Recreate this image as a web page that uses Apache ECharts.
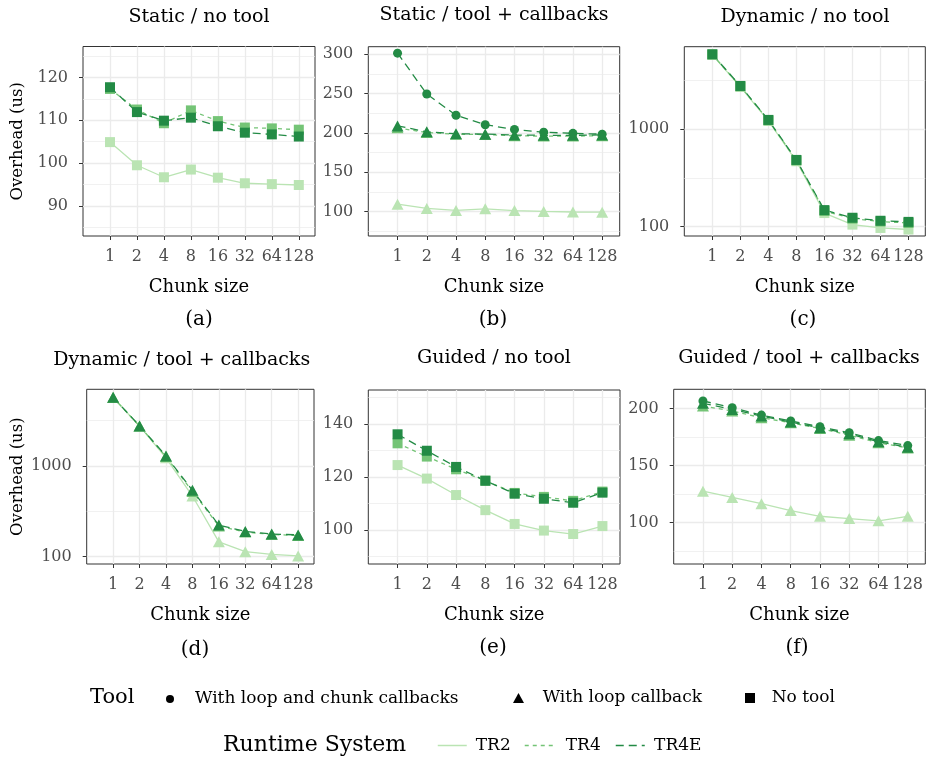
<!DOCTYPE html>
<html>
<head>
<meta charset="utf-8">
<script src="https://cdn.jsdelivr.net/npm/echarts@6/dist/echarts.min.js"></script>
<style>
html,body{margin:0;padding:0;background:#fff;}
#chart{width:928px;height:764px;}
</style>
</head>
<body>
<div id="chart"></div>
<script>
// ---------------- data ----------------
const chunkSizes = ['1', '2', '4', '8', '16', '32', '64', '128'];

// (a) Static / no tool  (No tool)
const staticNoToolTR2  = [104.9, 99.5, 96.7, 98.5, 96.6, 95.3, 95.1, 94.9];
const staticNoToolTR4  = [117.3, 112.5, 109.3, 112.3, 109.8, 108.3, 108.1, 107.8];
const staticNoToolTR4E = [117.7, 111.9, 109.9, 110.6, 108.6, 107.1, 106.7, 106.2];

// (b) Static / tool + callbacks
const staticToolTR2Loop   = [109.5, 104.0, 101.5, 103.5, 101.3, 100.2, 99.5, 99.3];
const staticToolTR4Loop   = [206.5, 200.5, 198.5, 198.0, 196.5, 196.0, 196.0, 196.5];
const staticToolTR4ELoop  = [209.0, 201.5, 199.0, 198.5, 197.5, 197.0, 197.0, 197.5];
const staticToolTR4EChunk = [301.5, 249.5, 222.5, 210.5, 204.5, 201.0, 199.5, 198.5];

// (c) Dynamic / no tool  (No tool)
const dynNoToolTR2  = [5820, 2730, 1220, 470, 138, 105, 97, 93.5];
const dynNoToolTR4  = [5880, 2770, 1240, 480, 145, 121, 113, 109];
const dynNoToolTR4E = [5900, 2790, 1250, 485, 148, 123.5, 115, 112];

// (d) Dynamic / tool + callbacks  (With loop callback)
const dynToolTR2Loop  = [5700, 2750, 1230, 467, 146, 113.5, 106, 102];
const dynToolTR4Loop  = [5700, 2760, 1270, 525, 218, 187, 176, 171];
const dynToolTR4ELoop = [5720, 2770, 1290, 540, 223, 190, 178, 174];

// (e) Guided / no tool  (No tool)
const guidedNoToolTR2  = [124.5, 119.4, 113.2, 107.5, 102.3, 99.8, 98.5, 101.5];
const guidedNoToolTR4  = [132.7, 127.7, 122.9, 118.6, 114.0, 112.5, 111.0, 114.5];
const guidedNoToolTR4E = [136.1, 129.9, 123.8, 118.6, 113.7, 111.8, 110.3, 114.1];

// (f) Guided / tool + callbacks
const guidedToolTR2Loop   = [127.5, 122.0, 116.5, 110.5, 105.5, 103.5, 101.5, 105.5];
const guidedToolTR4Loop   = [202.0, 197.7, 191.8, 187.4, 182.4, 176.5, 169.8, 165.4];
const guidedToolTR4ELoop  = [204.4, 199.1, 193.3, 188.0, 183.0, 177.7, 170.7, 166.0];
const guidedToolTR4EChunk = [206.5, 200.6, 194.1, 188.9, 183.9, 178.6, 171.8, 167.4];

// tick labels
const yTicksA = [90, 100, 110, 120];
const yTicksB = [100, 150, 200, 250, 300];
const yTicksLog = [100, 1000];
const yTicksE = [100, 120, 140];
const yTicksF = [100, 150, 200];

const toolNames = ['With loop and chunk callbacks', 'With loop callback', 'No tool'];
const runtimeNames = ['TR2', 'TR4', 'TR4E'];

// ---------------- styles ----------------
const FONT = "'DejaVu Serif', serif";
const runtimeStyle = {
  TR2:  { color: '#bae4b3', type: 'solid' },
  TR4:  { color: '#74c476', type: [4, 4] },
  TR4E: { color: '#238b45', type: [8, 5] }
};
const toolSymbol = {
  'No tool': { symbol: 'rect', size: 10 },
  'With loop callback': { symbol: 'triangle', size: [12, 11] },
  'With loop and chunk callbacks': { symbol: 'circle', size: 9 }
};

const panels = [
  { key: 'a', title: 'Static / no tool', grid: { left: 83, top: 46.5, width: 232, height: 189.5 },
    yType: 'value', yMin: 83, yMax: 127.2, split: 5, yTicks: yTicksA,
    titleX: 199, titleY: 16.7, labelX: 199, labelY: 320, yName: true, nameGap: 57,
    series: [
      { runtime: 'TR2', tool: 'No tool', values: staticNoToolTR2 },
      { runtime: 'TR4', tool: 'No tool', values: staticNoToolTR4 },
      { runtime: 'TR4E', tool: 'No tool', values: staticNoToolTR4E }
    ] },
  { key: 'b', title: 'Static / tool + callbacks', grid: { left: 368.3, top: 46.7, width: 251.4, height: 189.3 },
    yType: 'value', yMin: 69, yMax: 309.7, split: 5, yTicks: yTicksB,
    titleX: 494, titleY: 15.5, labelX: 493, labelY: 320,
    series: [
      { runtime: 'TR2', tool: 'With loop callback', values: staticToolTR2Loop },
      { runtime: 'TR4', tool: 'With loop callback', values: staticToolTR4Loop },
      { runtime: 'TR4E', tool: 'With loop callback', values: staticToolTR4ELoop },
      { runtime: 'TR4E', tool: 'With loop and chunk callbacks', values: staticToolTR4EChunk }
    ] },
  { key: 'c', title: 'Dynamic / no tool', grid: { left: 684.3, top: 46.7, width: 241, height: 189.3 },
    yType: 'log', yMin: 80.2, yMax: 7063, yTicks: yTicksLog,
    titleX: 805, titleY: 16.7, labelX: 803, labelY: 320,
    series: [
      { runtime: 'TR2', tool: 'No tool', values: dynNoToolTR2 },
      { runtime: 'TR4', tool: 'No tool', values: dynNoToolTR4 },
      { runtime: 'TR4E', tool: 'No tool', values: dynNoToolTR4E }
    ] },
  { key: 'd', title: 'Dynamic / tool + callbacks', grid: { left: 86.7, top: 389.3, width: 227.3, height: 174.7 },
    yType: 'log', yMin: 83.1, yMax: 7016, yTicks: yTicksLog,
    titleX: 181.7, titleY: 360, labelX: 195, labelY: 650, yName: true, nameGap: 60,
    series: [
      { runtime: 'TR2', tool: 'With loop callback', values: dynToolTR2Loop },
      { runtime: 'TR4', tool: 'With loop callback', values: dynToolTR4Loop },
      { runtime: 'TR4E', tool: 'With loop callback', values: dynToolTR4ELoop }
    ] },
  { key: 'e', title: 'Guided / no tool', grid: { left: 368.3, top: 390, width: 251.7, height: 174 },
    yType: 'value', yMin: 87.2, yMax: 152.8, split: 3, yTicks: yTicksE,
    titleX: 494, titleY: 358, labelX: 493, labelY: 648,
    series: [
      { runtime: 'TR2', tool: 'No tool', values: guidedNoToolTR2 },
      { runtime: 'TR4', tool: 'No tool', values: guidedNoToolTR4 },
      { runtime: 'TR4E', tool: 'No tool', values: guidedNoToolTR4E }
    ] },
  { key: 'f', title: 'Guided / tool + callbacks', grid: { left: 673.7, top: 389.3, width: 251.6, height: 174.7 },
    yType: 'value', yMin: 63.7, yMax: 216.7, split: 3, yTicks: yTicksF,
    titleX: 799, titleY: 358, labelX: 797, labelY: 648,
    series: [
      { runtime: 'TR2', tool: 'With loop callback', values: guidedToolTR2Loop },
      { runtime: 'TR4', tool: 'With loop callback', values: guidedToolTR4Loop },
      { runtime: 'TR4E', tool: 'With loop callback', values: guidedToolTR4ELoop },
      { runtime: 'TR4E', tool: 'With loop and chunk callbacks', values: guidedToolTR4EChunk }
    ] }
];

// ---------------- option ----------------
const chunkIdx = chunkSizes.map((_, i) => i);
const gridMajor = { color: '#ebebeb', width: 1.3 };
const gridMinor = { color: '#ebebeb', width: 0.7 };
const tickLabel = { fontFamily: FONT, fontSize: 16, color: '#4d4d4d' };

const option = {
  animation: false,
  backgroundColor: '#ffffff',
  grid: [], xAxis: [], yAxis: [], series: [], title: [], legend: []
};

panels.forEach((p, gi) => {
  option.grid.push({
    left: p.grid.left, top: p.grid.top, width: p.grid.width, height: p.grid.height,
    show: true, borderColor: '#333333', borderWidth: 1, backgroundColor: 'transparent'
  });
  const xi = option.xAxis.length;
  option.xAxis.push({
    type: 'value', gridIndex: gi, position: 'bottom', min: -1, max: 7.6, interval: 1,
    name: 'Chunk size', nameLocation: 'middle', nameGap: 42,
    nameTextStyle: { fontFamily: FONT, fontSize: 18, color: '#000' },
    axisLine: { show: false, onZero: false },
    axisTick: { show: true, inside: false, customValues: chunkIdx, length: 4, lineStyle: { color: '#333', width: 1 } },
    axisLabel: { customValues: chunkIdx, formatter: v => chunkSizes[Math.round(v)], margin: 13, ...tickLabel },
    splitLine: { show: true, lineStyle: gridMajor },
    minorSplitLine: { show: false }
  });
  const yi = option.yAxis.length;
  const yBase = {
    gridIndex: gi, position: 'left', min: p.yMin, max: p.yMax,
    axisLine: { show: false, onZero: false },
    axisTick: { show: true, inside: false, customValues: p.yTicks, length: 4, lineStyle: { color: '#333', width: 1 } },
    axisLabel: { customValues: p.yTicks, formatter: v => String(Math.round(v)), margin: 15, ...tickLabel },
    splitLine: { show: true, lineStyle: gridMajor }
  };
  if (p.yName) {
    yBase.name = 'Overhead (us)';
    yBase.nameLocation = 'middle';
    yBase.nameGap = p.nameGap;
    yBase.nameTextStyle = { fontFamily: FONT, fontSize: 16.5, color: '#000' };
  }
  if (p.yType === 'log') {
    option.yAxis.push(Object.assign({ type: 'log', logBase: 10, minorSplitLine: { show: false } }, yBase));
    // helper axis in log10 units for half-decade minor grid lines
    option.yAxis.push({
      type: 'value', gridIndex: gi, position: 'right',
      min: Math.log10(p.yMin), max: Math.log10(p.yMax), splitNumber: 2,
      axisLine: { show: false, onZero: false }, axisTick: { show: false }, axisLabel: { show: false },
      splitLine: { show: false },
      minorTick: { show: false, splitNumber: 2 },
      minorSplitLine: { show: true, lineStyle: gridMinor }
    });
  } else {
    option.yAxis.push(Object.assign({
      type: 'value', splitNumber: p.split,
      minorTick: { show: false, splitNumber: 2 },
      minorSplitLine: { show: true, lineStyle: gridMinor }
    }, yBase));
  }

  p.series.forEach(s => {
    const rs = runtimeStyle[s.runtime];
    const ts = toolSymbol[s.tool];
    option.series.push({
      type: 'line', name: s.runtime + ' / ' + s.tool + ' (' + p.key + ')',
      xAxisIndex: xi, yAxisIndex: yi,
      data: s.values.map((v, k) => [chunkIdx[k], v]),
      symbol: ts.symbol, symbolSize: ts.size, showSymbol: true,
      lineStyle: { color: rs.color, width: 1.3, type: rs.type },
      itemStyle: { color: rs.color },
      emphasis: { disabled: true }, silent: true
    });
  });

  option.title.push({
    text: p.title, left: p.titleX, top: p.titleY, textAlign: 'center', textVerticalAlign: 'middle', padding: 0,
    textStyle: { fontFamily: FONT, fontSize: 19, fontWeight: 'normal', color: '#000' }
  });
  option.title.push({
    text: '(' + p.key + ')', left: p.labelX, top: p.labelY, textAlign: 'center', textVerticalAlign: 'middle', padding: 0,
    textStyle: { fontFamily: FONT, fontSize: 20, fontWeight: 'normal', color: '#000' }
  });
});

// legend headers
option.title.push({
  text: 'Tool', left: 90, top: 697.5, textAlign: 'left', textVerticalAlign: 'middle', padding: 0,
  textStyle: { fontFamily: FONT, fontSize: 21, fontWeight: 'normal', color: '#000' }
});
option.title.push({
  text: 'Runtime System', left: 223, top: 745, textAlign: 'left', textVerticalAlign: 'middle', padding: 0,
  textStyle: { fontFamily: FONT, fontSize: 22, fontWeight: 'normal', color: '#000' }
});

// dummy series that carry the legend entries
toolNames.forEach(n => {
  option.series.push({
    type: 'line', name: n, xAxisIndex: 0, yAxisIndex: 0, data: [],
    symbol: toolSymbol[n].symbol, itemStyle: { color: '#000' }, lineStyle: { color: '#000' }
  });
});
runtimeNames.forEach(n => {
  option.series.push({
    type: 'line', name: n, xAxisIndex: 0, yAxisIndex: 0, data: [], symbol: 'none',
    itemStyle: { color: runtimeStyle[n].color },
    lineStyle: { color: runtimeStyle[n].color, type: runtimeStyle[n].type, width: 1.3 }
  });
});

const legendText = { fontFamily: FONT, fontSize: 17, color: '#000' };
const toolLegendLayout = [
  { left: 166, w: 8, h: 8, padL: 16 },
  { left: 513, w: 11, h: 10, padL: 13.7 },
  { left: 745, w: 10, h: 10, padL: 11.7 }
];
toolNames.forEach((n, i) => {
  const L = toolLegendLayout[i];
  option.legend.push({
    show: true, selectedMode: false, padding: 0, itemGap: 0,
    left: L.left, top: 694.5 - L.h / 2, itemWidth: L.w, itemHeight: L.h,
    data: [{ name: n, icon: toolSymbol[n].symbol, itemStyle: { color: '#000' } }],
    textStyle: Object.assign({ padding: [0, 0, 0, L.padL] }, legendText)
  });
});
const rtLegendLayout = [
  { left: 437, padL: 4 },
  { left: 524, padL: 7 },
  { left: 615, padL: 4.3 }
];
runtimeNames.forEach((n, i) => {
  const L = rtLegendLayout[i];
  option.legend.push({
    show: true, selectedMode: false, padding: 0, itemGap: 0,
    left: L.left, top: 744 - 7, itemWidth: 29, itemHeight: 14,
    data: [{ name: n, itemStyle: { opacity: 0 },
             lineStyle: { color: runtimeStyle[n].color, type: runtimeStyle[n].type, width: 1.5 } }],
    textStyle: Object.assign({ padding: [0, 0, 0, L.padL] }, legendText)
  });
});

const chart = echarts.init(document.getElementById('chart'), null, { renderer: 'canvas' });
chart.setOption(option);
</script>
</body>
</html>
